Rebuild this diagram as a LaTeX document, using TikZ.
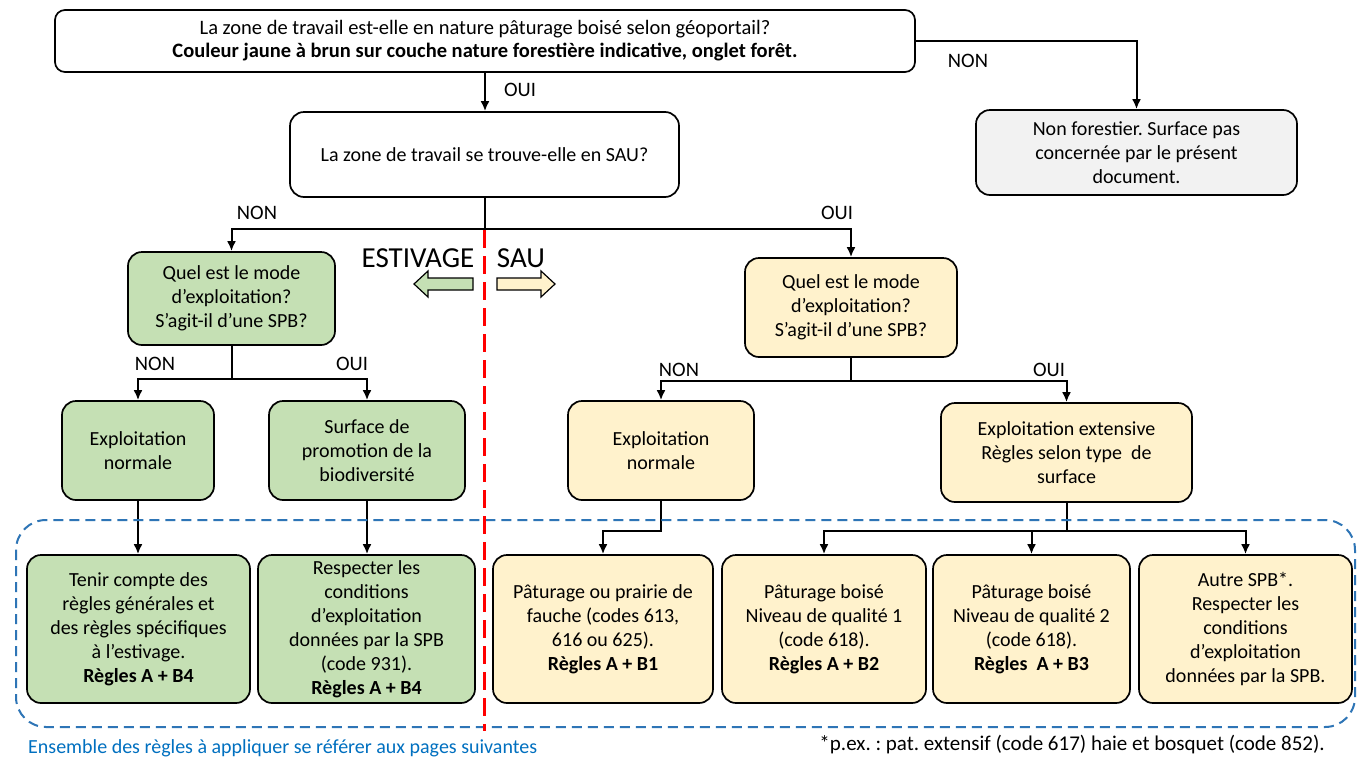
\documentclass[tikz,border=0pt]{standalone}
\usepackage{fontspec}
\setmainfont{Carlito}
\usetikzlibrary{arrows.meta}
\definecolor{gfill}{HTML}{C5E0B4}
\definecolor{yfill}{HTML}{FFF2CC}
\definecolor{grfill}{HTML}{F2F2F2}
\definecolor{bline}{HTML}{2E75B6}
\definecolor{btext}{HTML}{0070C0}
\frenchspacing
\begin{document}
\begin{tikzpicture}[x=1pt,y=-1pt,
  box/.style={draw, line width=1.7pt, rounded corners=14pt, align=center, inner sep=0pt, font=\fontsize{20pt}{24pt}\selectfont},
  gbox/.style={box, fill=gfill},
  ybox/.style={box, fill=yfill},
  arr/.style={-{Latex[length=10pt,width=9pt]}, line width=2pt},
  lbl/.style={font=\fontsize{20.5pt}{22pt}\selectfont, inner sep=0pt},
  big/.style={font=\fontsize{29pt}{30pt}\selectfont, inner sep=0pt}]
\useasboundingbox (0,0) rectangle (1357,758);
\fill[white] (0,0) rectangle (1357,758);

% boxes
\node[box, rounded corners=10pt, fill=white, minimum width=860pt, minimum height=62pt, font=\fontsize{20.5pt}{23pt}\selectfont] (top) at (485,41)
  {La zone de travail est-elle en nature pâturage boisé selon géoportail?\\ \textbf{Couleur jaune à brun sur couche nature forestière indicative, onglet forêt.}};
\node[box, fill=white, minimum width=389pt, minimum height=85pt] (sau) at (484.5,154.5)
  {La zone de travail se trouve-elle en SAU?};
\node[box, fill=grfill, minimum width=321pt, minimum height=85pt] (nf) at (1136.5,152.5)
  {Non forestier. Surface pas\\concernée par le présent\\document.};
\node[gbox, minimum width=207pt, minimum height=93pt] (lq) at (231.5,298.5)
  {Quel est le mode\\d’exploitation?\\S’agit-il d’une SPB?};
\node[ybox, minimum width=212pt, minimum height=99pt] (rq) at (851,307.5)
  {Quel est le mode\\d’exploitation?\\S’agit-il d’une SPB?};
\node[gbox, minimum width=152pt, minimum height=99pt] (en1) at (138,450.5)
  {Exploitation\\normale};
\node[gbox, minimum width=196pt, minimum height=99pt] (surf) at (367,450.5)
  {Surface de\\promotion de la\\biodiversité};
\node[ybox, minimum width=186pt, minimum height=99pt] (en2) at (661,450.5)
  {Exploitation\\normale};
\node[ybox, minimum width=251pt, minimum height=99pt] (ext) at (1066.5,452.5)
  {Exploitation extensive\\Règles selon type~~de\\surface};
\node[gbox, minimum width=223pt, minimum height=148pt] (tenir) at (138.5,629)
  {Tenir compte des\\règles générales et\\des règles spécifiques\\à l’estivage.\\\textbf{Règles A + B4}};
\node[gbox, minimum width=217pt, minimum height=148pt] (resp) at (366.5,629)
  {Respecter les\\conditions\\d’exploitation\\données par la SPB\\(code 931).\\\textbf{Règles A + B4}};
\node[ybox, minimum width=220pt, minimum height=148pt] (prai) at (603,629)
  {Pâturage ou prairie de\\fauche (codes 613,\\616 ou 625).\\\textbf{Règles A + B1}};
\node[ybox, minimum width=204pt, minimum height=148pt] (b1) at (824,629)
  {Pâturage boisé\\Niveau de qualité 1\\(code 618).\\\textbf{Règles A + B2}};
\node[ybox, minimum width=197pt, minimum height=148pt] (b2) at (1031.5,629)
  {Pâturage boisé\\Niveau de qualité 2\\(code 618).\\\textbf{Règles~~A + B3}};
\node[ybox, minimum width=213pt, minimum height=148pt] (autre) at (1245.5,629)
  {Autre SPB*.\\Respecter les\\conditions\\d’exploitation\\données par la SPB.};

% connectors
\draw[arr] (top.south) -- (top.south |- sau.north);
\draw[arr] (top.east) -| (nf.north);
\draw[arr] (sau.south) -- ++(0,31) -| (lq.north);
\draw[arr] (sau.south) -- ++(0,31) -| (rq.north);
\draw[arr] (lq.south) -- ++(0,33) -| (en1.north);
\draw[arr] (lq.south) -- ++(0,33) -| (surf.north);
\draw[arr] (rq.south) -- ++(0,23) -| (en2.north);
\draw[arr] (rq.south) -- ++(0,23) -| (ext.north);
\draw[arr] (en1.south) -- (en1.south |- tenir.north);
\draw[arr] (surf.south) -- (surf.south |- resp.north);
\draw[arr] (en2.south) -- ++(0,30) -| (prai.north);
\draw[arr] (ext.south) -- ++(0,28) -| (b1.north);
\draw[arr] (ext.south) -- ++(0,28) -| (b2.north);
\draw[arr] (ext.south) -- ++(0,28) -| (autre.north);

% labels
\node[lbl] (l1) at (520,90) {OUI};
\node[lbl] (l2) at (968,61) {NON};
\node[lbl] (l3) at (257,213) {NON};
\node[lbl] (l4) at (837,213) {OUI};
\node[lbl] (l5) at (155,364) {NON};
\node[lbl] (l6) at (352,364) {OUI};
\node[lbl] (l7) at (679,370) {NON};
\node[lbl] (l8) at (1049,370) {OUI};

% estivage / sau
\node[big] (est) at (418,258) {ESTIVAGE};
\node[big] (sauT) at (521,258) {SAU};
\draw[line width=1.2pt, fill=gfill] (473,278) -- (428,278) -- (428,271) -- (414,284) -- (428,297) -- (428,290) -- (473,290) -- cycle;
\draw[line width=1.2pt, fill=yfill] (497,278) -- (541,278) -- (541,271) -- (555,284) -- (541,297) -- (541,290) -- (497,290) -- cycle;

% dashed frames
\draw[bline, line width=2pt, dash pattern=on 10pt off 6pt, rounded corners=30pt] (16,520) rectangle (1355,727);
\draw[red, line width=3pt, dash pattern=on 18pt off 8pt] (484,230) -- (484,731);

% footnotes
\node[lbl, font=\fontsize{20pt}{22pt}\selectfont, text=btext, anchor=west] (ens) at (28,748) {Ensemble des règles à appliquer se référer aux pages suivantes};
\node[lbl, font=\fontsize{21pt}{22pt}\selectfont, anchor=east] (fn) at (1325,745) {*p.ex. : pat. extensif (code 617) haie et bosquet (code 852).};
\end{tikzpicture}
\end{document}
